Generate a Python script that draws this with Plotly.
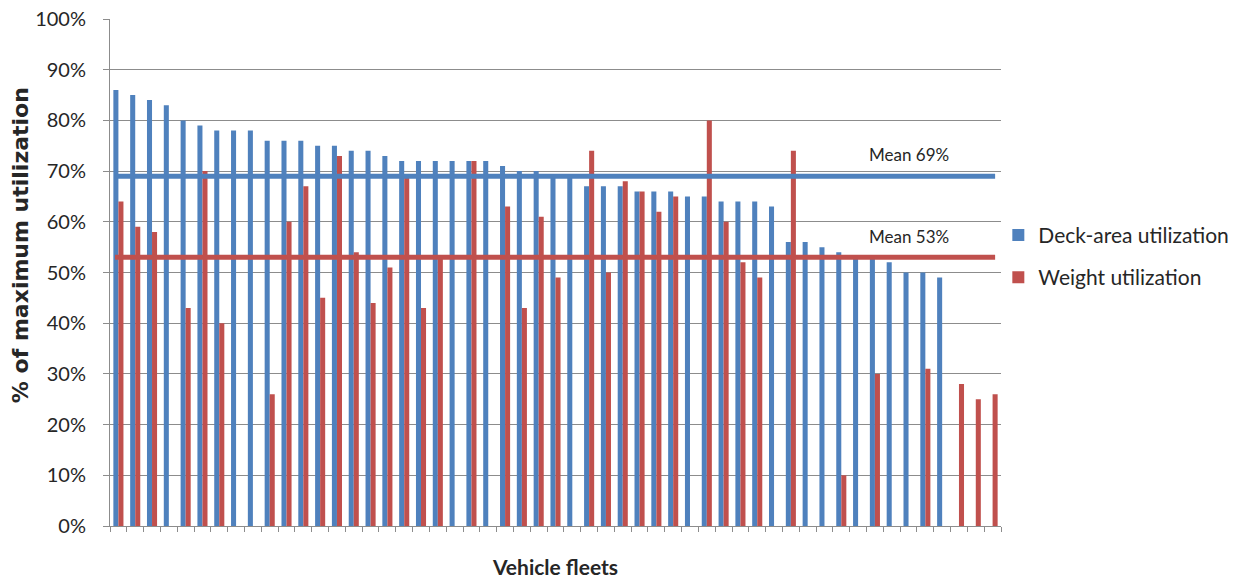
import plotly.graph_objects as go

# Vehicle fleets ordered by deck-area utilization (percent of maximum)
fleets = list(range(53))
deck_area = [86, 85, 84, 83, 80, 79, 78, 78, 78, 76, 76, 76, 75, 75, 74, 74, 73, 72,
             72, 72, 72, 72, 72, 71, 70, 70, 69, 69, 67, 67, 67, 66, 66, 66, 65, 65,
             64, 64, 64, 63, 56, 56, 55, 54, 53, 53, 52, 50, 50, 49, None, None, None]
weight = [64, 59, 58, None, 43, 70, 40, None, None, 26, 60, 67, 45, 73, 54, 44, 51, 69,
          43, 53, None, 72, None, 63, 43, 61, 49, None, 74, 50, 68, 66, 62, 65, None, 80,
          60, 52, 49, None, 74, None, None, 10, None, 30, None, None, 31, None, 28, 25, 26]
mean_deck = 69
mean_weight = 53

BLUE = "#4F81BD"
RED = "#C0504D"
GRID = "#8C8C8C"
TEXT = "#262626"
FONT = "Lato, 'Open Sans', sans-serif"

fig = go.Figure()
fig.add_trace(go.Bar(x=fleets, y=deck_area, name="Deck-area utilization",
                     marker=dict(color=BLUE, line=dict(width=0)), legendgroup="a"))
fig.add_trace(go.Bar(x=fleets, y=weight, name="Weight utilization",
                     marker=dict(color=RED, line=dict(width=0)), legendgroup="b"))

# Mean lines spanning the whole fleet range
span = [fleets[0] - 0.2, fleets[-1] + 0.15]
fig.add_trace(go.Scatter(x=span, y=[mean_deck] * 2, mode="lines", showlegend=False,
                         line=dict(color=BLUE, width=5), hoverinfo="skip"))
fig.add_trace(go.Scatter(x=span, y=[mean_weight] * 2, mode="lines", showlegend=False,
                         line=dict(color=RED, width=5), hoverinfo="skip"))

label_x = fleets[-6]
fig.add_annotation(x=label_x, y=mean_deck, yshift=22, text=f"Mean {mean_deck}%",
                   showarrow=False, font=dict(family=FONT, size=17, color=TEXT))
fig.add_annotation(x=label_x, y=mean_weight, yshift=21, text=f"Mean {mean_weight}%",
                   showarrow=False, font=dict(family=FONT, size=17, color=TEXT))

# Vertical axis title
fig.add_annotation(xref="paper", yref="paper", x=-0.101, y=0.554, textangle=-90,
                   xanchor="center", yanchor="middle",
                   text="<b>% of maximum utilization</b>", showarrow=False,
                   font=dict(family="'DejaVu Sans', sans-serif", size=22, color=TEXT))

fig.update_layout(
    width=1239, height=579,
    margin=dict(l=110, r=238, t=19, b=53, autoexpand=False),
    paper_bgcolor="white", plot_bgcolor="white",
    barmode="group", bargap=0.4, bargroupgap=0,
    font=dict(family=FONT, color=TEXT),
    legend=dict(x=0.997, y=0.532, xanchor="left", yanchor="middle",
                font=dict(family=FONT, size=21, color=TEXT),
                traceorder="grouped", tracegroupgap=12,
                itemwidth=30, bgcolor="rgba(0,0,0,0)"),
    xaxis=dict(range=[-0.5, 52.5], showticklabels=False, showgrid=False,
               tickmode="linear", tick0=-0.5, dtick=1, ticks="outside", ticklen=5,
               tickcolor=GRID, showline=True, linecolor=GRID, linewidth=1,
               zeroline=False, automargin=False,
               title=dict(text="<b>Vehicle fleets</b>", standoff=33,
                          font=dict(family=FONT, size=21, color=TEXT))),
    yaxis=dict(range=[0, 100], dtick=10, ticksuffix="%", showgrid=True,
               gridcolor=GRID, gridwidth=1, ticks="outside", ticklen=6,
               tickcolor=GRID, showline=True, linecolor=GRID, linewidth=1,
               zeroline=False, ticklabelstandoff=13, automargin=False,
               tickfont=dict(family=FONT, size=20, color=TEXT)),
)

fig.write_html("out.html")
